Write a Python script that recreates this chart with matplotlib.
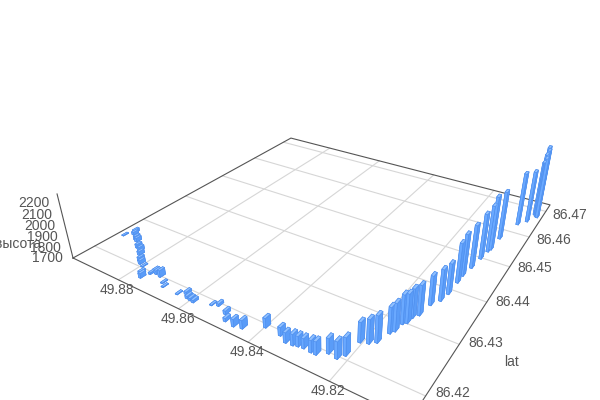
import numpy as np
import matplotlib
matplotlib.use("Agg")
import matplotlib.pyplot as plt
from mpl_toolkits.mplot3d import proj3d

# --- data ---
lon = [49.8950,49.8937,49.8931,49.8907,49.8897,49.8872,49.8857,49.8842,49.8821,49.8809,49.8795,49.8773,49.8763,49.8755,49.8753,49.8743,49.8726,49.8703,49.8690,49.8642,49.8625,49.8612,49.8601,49.8590,49.8548,49.8533,49.8501,49.8485,49.8459,49.8439,49.8399,49.8357,49.8335,49.8318,49.8307,49.8294,49.8275,49.8263,49.8243,49.8221,49.8211,49.8206,49.8189,49.8176,49.8167,49.8161,49.8158,49.8151,49.8149,49.8140,49.8134,49.8121,49.8116,49.8115,49.8115,49.8109,49.8104,49.8100,49.8097,49.8095,49.8077,49.8060,49.8053,49.8047,49.8049,49.8043,49.8046]
lat = [86.4250,86.4266,86.4261,86.4252,86.4249,86.4237,86.4233,86.4225,86.4214,86.4209,86.4206,86.4190,86.4185,86.4199,86.4206,86.4204,86.4202,86.4193,86.4187,86.4186,86.4193,86.4187,86.4186,86.4185,86.4194,86.4198,86.4190,86.4179,86.4177,86.4180,86.4198,86.4196,86.4189,86.4190,86.4192,86.4193,86.4192,86.4192,86.4202,86.4200,86.4210,86.4240,86.4244,86.4251,86.4275,86.4282,86.4300,86.4305,86.4318,86.4328,86.4356,86.4372,86.4392,86.4424,86.4444,86.4470,86.4501,86.4526,86.4534,86.4573,86.4633,86.4651,86.4683,86.4677,86.4680,86.4674,86.4681]
alt = [1705,1726,1726,1735,1735,1735,1734,1734,1734,1734,1705,1733,1742,1714,1723,1733,1761,1705,1705,1705,1723,1723,1722,1722,1705,1722,1731,1730,1765,1773,1783,1773,1790,1798,1790,1788,1805,1813,1830,1846,1855,1873,1906,1930,1925,1942,1953,1953,1954,1963,1958,1977,1971,2054,2075,2089,2113,2127,2191,2146,2196,2189,2216,2270,2299,2353,2365]
lon_ticks = [49.88, 49.86, 49.84, 49.82]
lat_ticks = [86.42, 86.43, 86.44, 86.45, 86.46, 86.47]
alt_ticks = [1700, 1800, 1900, 2000, 2100, 2200]

lon_max, lon_min = 49.8971, 49.8030
lat_min, lat_max = 86.4160, 86.4728
alt_min, alt_max = 1700, 2282
bar_dx, bar_dy = 0.00065, 0.00105

plt.rcParams['font.family'] = ['Liberation Sans', 'DejaVu Sans']
label_col = '#555555'
axis_col = '#555555'
grid_col = '#d6d6d6'

fig = plt.figure(figsize=(6, 4), dpi=100)
ax = fig.add_axes([0.131, -0.1272, 0.8143, 1.2214], projection='3d', computed_zorder=False)
ax.set_xlim(lon_max, lon_min, view_margin=0)
ax.set_ylim(lat_min, lat_max, view_margin=0)
ax.set_zlim(alt_min, alt_max, view_margin=0)
ax.set_box_aspect((1, 0.9937, 0.1948))
ax.view_init(elev=28.5372, azim=-57.2348)
ax.set_proj_type('persp', focal_length=0.2239)
ax.set_axis_off()
M = ax.get_proj()

def label(x, y, z, s, dx, dy, ha='center'):
    px, py, _ = proj3d.proj_transform(x, y, z, M)
    ax.annotate(s, (px, py), xytext=(dx, dy), textcoords='offset pixels', ha=ha, va='center',
                fontsize=10, color=label_col, annotation_clip=False)

# floor grid
for t in lon_ticks:
    ax.plot([t, t], [lat_min, lat_max], [alt_min, alt_min], color=grid_col, lw=0.8, zorder=1, clip_on=False)
    label(t, lat_min, alt_min, f'{t:.2f}', -1, -10)
for t in lat_ticks:
    ax.plot([lon_max, lon_min], [t, t], [alt_min, alt_min], color=grid_col, lw=0.8, zorder=1, clip_on=False)
    frac = (lat_ticks[-1] - t) / (lat_ticks[-1] - lat_ticks[0])
    label(lon_min, t, alt_min, f'{t:.2f}', 24 + 3 * frac, -4 + 7 * frac)

# box edges and the height axis
ax.plot([lon_max, lon_min, lon_min, lon_max, lon_max], [lat_min, lat_min, lat_max, lat_max, lat_min],
        [alt_min] * 5, color=axis_col, lw=0.8, zorder=2, clip_on=False)
ax.plot([lon_max, lon_max], [lat_min, lat_min], [alt_min, alt_max], color=axis_col, lw=0.8, zorder=2, clip_on=False)
for t in alt_ticks:
    label(lon_max, lat_min, t, str(t), -10, 0, ha='right')

label(lon_max, lat_min, alt_min, 'высота', -32, 14, ha='right')
label(lon_min, (lat_min + lat_max) / 2, alt_min, 'lat', 14, -76)

# bars
x = np.array(lon) - bar_dx / 2
y = np.array(lat) - bar_dy / 2
z = np.full(len(x), alt_min)
dz = np.array(alt) - alt_min
# faces: bottom, top, -lat, +lat, -lon, +lon
face_cols = np.tile(['#4f8fee', '#8fc0ff', '#6aa9ff', '#6aa9ff', '#5a9cf8', '#5a9cf8'], len(x))
ax.bar3d(x, y, z, bar_dx, bar_dy, dz, color=face_cols, edgecolor='#4f8fee', linewidth=0.4, shade=False, zorder=3)

fig.savefig("out.png", dpi=100)
